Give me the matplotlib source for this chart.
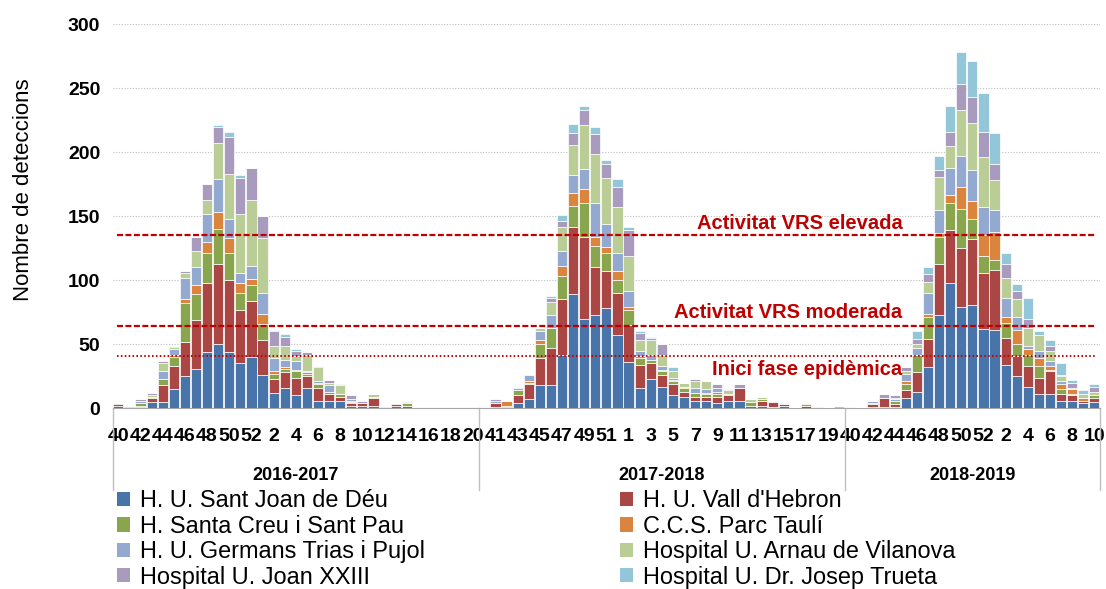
"""
VRS detections by week and hospital, seasons 2016-2017 to 2018-2019.
Stacked bar chart with epidemic threshold lines.
"""

import matplotlib
matplotlib.use("Agg")
import matplotlib.pyplot as plt
import matplotlib.transforms as mtransforms
from matplotlib import font_manager
from matplotlib.patches import Patch
import numpy as np

# ------------------------------------------------------------------ #
# Data
# ------------------------------------------------------------------ #
SEASONS = ["2016-2017", "2017-2018", "2018-2019"]
WEEKS_S1 = list(range(40, 53)) + list(range(1, 21))
WEEKS_S2 = list(range(40, 53)) + list(range(1, 21))
WEEKS_S3 = list(range(40, 53)) + list(range(1, 11))

HOSPITALS = [
    "H. U. Sant Joan de Déu",
    "H. U. Vall d'Hebron",
    "H. Santa Creu i Sant Pau",
    "C.C.S. Parc Taulí",
    "H. U. Germans Trias i Pujol",
    "Hospital U. Arnau de Vilanova",
    "Hospital U. Joan XXIII",
    "Hospital U. Dr. Josep Trueta",
]

sant_joan = [
    2, 1, 1, 5, 5, 15, 25, 31, 44, 50, 44, 35, 40, 26, 12, 16, 10, 16, 6, 6, 6, 2, 2, 2, 1, 2, 2, 0, 0, 0, 0, 0, 0,
    0, 1, 1, 4, 7, 18, 18, 42, 89, 70, 73, 78, 57, 36, 16, 23, 17, 10, 9, 6, 6, 4, 6, 6, 2, 2, 1, 2, 0, 0, 0, 0, 0,
    0, 0, 1, 1, 1, 8, 13, 32, 73, 98, 79, 81, 62, 61, 34, 25, 17, 11, 11, 6, 6, 4, 5,
]
vall_hebron = [
    1, 1, 1, 3, 13, 18, 27, 38, 54, 63, 56, 42, 44, 27, 11, 12, 14, 9, 10, 5, 3, 2, 2, 6, 0, 1, 0, 0, 0, 0, 0, 0, 0,
    0, 3, 1, 6, 12, 21, 29, 43, 53, 64, 37, 29, 33, 29, 18, 12, 9, 9, 4, 3, 3, 5, 4, 10, 0, 4, 4, 1, 0, 2, 0, 0, 0,
    0, 1, 2, 7, 2, 6, 15, 22, 40, 41, 46, 51, 44, 47, 21, 16, 16, 13, 18, 5, 4, 2, 3,
]
santa_creu = [
    1, 0, 2, 1, 5, 7, 30, 20, 23, 27, 21, 13, 12, 13, 4, 3, 5, 2, 3, 2, 2, 1, 0, 0, 1, 0, 2, 0, 0, 0, 0, 0, 0,
    0, 0, 0, 4, 1, 11, 16, 18, 16, 26, 17, 14, 10, 12, 5, 3, 3, 2, 3, 3, 2, 2, 1, 0, 3, 1, 0, 0, 0, 0, 0, 0, 0,
    0, 0, 1, 0, 3, 5, 14, 17, 21, 21, 31, 16, 13, 8, 12, 9, 9, 9, 1, 4, 1, 0, 2,
]
parc_tauli = [
    0, 0, 0, 0, 0, 2, 3, 7, 9, 13, 12, 8, 5, 8, 2, 1, 1, 1, 1, 0, 0, 1, 0, 1, 0, 1, 0, 0, 0, 0, 0, 0, 0,
    0, 0, 4, 0, 1, 3, 0, 8, 10, 11, 7, 5, 7, 2, 2, 0, 1, 1, 1, 0, 1, 2, 0, 0, 0, 0, 0, 0, 0, 1, 0, 0, 0,
    0, 0, 0, 0, 0, 2, 0, 3, 3, 7, 17, 14, 16, 22, 4, 11, 4, 6, 3, 4, 4, 2, 0,
]
germans_trias = [
    0, 0, 2, 0, 6, 4, 17, 14, 22, 26, 15, 8, 10, 16, 10, 6, 7, 1, 1, 5, 0, 1, 0, 0, 0, 0, 0, 0, 0, 0, 0, 0, 0,
    0, 2, 0, 2, 5, 7, 10, 12, 14, 16, 26, 18, 14, 13, 4, 4, 3, 2, 0, 4, 3, 3, 0, 0, 0, 0, 0, 0, 1, 0, 1, 1, 0,
    0, 0, 2, 0, 1, 6, 5, 16, 18, 21, 24, 24, 22, 17, 15, 10, 3, 6, 4, 2, 0, 0, 0,
]
arnau = [
    0, 0, 0, 1, 6, 2, 4, 13, 11, 28, 35, 46, 52, 43, 10, 11, 4, 13, 11, 2, 7, 0, 0, 2, 0, 0, 1, 0, 0, 0, 0, 0, 0,
    0, 0, 0, 1, 1, 3, 10, 19, 24, 34, 39, 36, 36, 27, 8, 11, 9, 5, 3, 5, 6, 0, 3, 0, 2, 2, 0, 0, 0, 1, 1, 0, 2,
    0, 0, 0, 0, 1, 2, 3, 9, 26, 17, 36, 37, 39, 23, 16, 14, 14, 12, 8, 4, 1, 3, 3,
]
joan_xxiii = [
    0, 0, 1, 2, 2, 1, 1, 11, 12, 13, 29, 28, 25, 17, 11, 7, 4, 2, 1, 2, 0, 3, 2, 0, 0, 0, 1, 0, 0, 0, 0, 0, 0,
    0, 1, 0, 0, 0, 0, 3, 4, 9, 12, 15, 11, 16, 20, 6, 2, 8, 0, 0, 2, 0, 3, 1, 3, 0, 0, 1, 1, 0, 0, 0, 0, 0,
    0, 0, 0, 3, 2, 3, 4, 6, 5, 11, 20, 20, 20, 13, 11, 7, 7, 0, 4, 1, 4, 0, 4,
]
trueta = [
    0, 0, 0, 0, 0, 0, 0, 0, 0, 1, 4, 2, 0, 0, 1, 2, 1, 0, 0, 0, 1, 0, 0, 0, 0, 0, 0, 0, 0, 0, 0, 0, 0,
    0, 0, 0, 0, 0, 0, 2, 5, 7, 3, 6, 3, 6, 3, 1, 1, 0, 3, 0, 0, 0, 0, 0, 0, 0, 0, 0, 0, 0, 0, 0, 0, 0,
    0, 0, 0, 0, 0, 0, 6, 5, 11, 20, 25, 28, 30, 24, 8, 5, 16, 3, 4, 9, 2, 3, 2,
]

THRESHOLDS = [135, 64, 41]
THRESHOLD_LABELS = ["Activitat VRS elevada", "Activitat VRS moderada", "Inici fase epidèmica"]

COLORS = ["#4874AA", "#AA4644", "#89A54E", "#DB843D",
          "#93A9D0", "#BACD96", "#A99BBD", "#93C6D8"]
RED = "#C00000"


def pick_font(*names):
    have = {f.name for f in font_manager.fontManager.ttflist}
    for n in names:
        if n in have:
            return n
    return "DejaVu Sans"


def main():
    base_font = pick_font("Liberation Sans", "Arimo")
    narrow_font = pick_font("Liberation Sans Narrow", "Liberation Sans")
    plt.rcParams["font.family"] = [base_font, "DejaVu Sans"]

    series = [sant_joan, vall_hebron, santa_creu, parc_tauli,
              germans_trias, arnau, joan_xxiii, trueta]
    weeks = WEEKS_S1 + WEEKS_S2 + WEEKS_S3
    season_len = [len(WEEKS_S1), len(WEEKS_S2), len(WEEKS_S3)]
    x = np.arange(len(weeks))

    fig = plt.figure(figsize=(11.06, 5.89), dpi=100)
    ax = fig.add_axes([0.102, 0.3068, 0.8925, 0.652])

    bottom = np.zeros(len(weeks))
    for vals, col in zip(series, COLORS):
        vals = np.array(vals, dtype=float)
        ax.bar(x, vals, 0.92, bottom=bottom, color=col,
               edgecolor="white", linewidth=0.5, zorder=3)
        bottom += vals

    ax.set_xlim(-0.5, len(weeks) - 0.5)
    ax.set_ylim(0, 300)
    ax.set_yticks(np.arange(0, 301, 50))
    ax.tick_params(axis="y", length=0, pad=9)
    for lab in ax.get_yticklabels():
        lab.set_fontsize(14)
        lab.set_fontweight("bold")
    ax.grid(axis="y", linestyle=(0, (1, 1.5)), color="#BDBDBD", linewidth=0.8, zorder=0)

    # x tick labels: every second week
    tick_pos = x[::2]
    ax.set_xticks(tick_pos)
    ax.set_xticklabels([str(weeks[i]) for i in tick_pos],
                       fontsize=14, fontweight="bold", family=narrow_font)
    ax.tick_params(axis="x", length=0, pad=14)

    for s in ["top", "right", "left"]:
        ax.spines[s].set_visible(False)
    ax.spines["bottom"].set_color("#A6A6A6")

    ax.set_ylabel("Nombre de deteccions", fontsize=16)
    ax.yaxis.set_label_coords(-0.080, 0.57)

    # season separators and labels
    trans = mtransforms.blended_transform_factory(ax.transData, ax.transAxes)
    edges = np.cumsum([0] + season_len) - 0.5
    for e in edges:
        ax.plot([e, e], [0, -0.213], transform=trans, color="#BFBFBF",
                linewidth=1, clip_on=False)
    for i, name in enumerate(SEASONS):
        mid = (edges[i] + edges[i + 1]) / 2
        ax.text(mid, -0.176, name, transform=trans, ha="center", va="center",
                fontsize=13, fontweight="bold", family=narrow_font)

    # threshold lines
    styles = [(0, (2.7, 1.1)), (0, (2.7, 1.1)), (0, (0.8, 1.2))]
    widths = [1.6, 1.6, 1.4]
    text_y = [144, 74.5, 30]
    for thr, ls, lw, lab, ty in zip(THRESHOLDS, styles, widths, THRESHOLD_LABELS, text_y):
        ax.axhline(thr, xmin=0.004, xmax=0.996, color=RED, linestyle=ls,
                   linewidth=lw, zorder=4)
        ax.text(70.7, ty, lab, ha="right", va="center", color=RED,
                fontsize=14.5, fontweight="bold", zorder=5)

    # legend, two columns (row-major order as in the original)
    handles = [Patch(facecolor=c, edgecolor="none") for c in COLORS]
    left = [0, 2, 4, 6]
    right = [1, 3, 5, 7]
    for idx, xpos in [(left, 0.106), (right, 0.561)]:
        fig.legend([handles[i] for i in idx], [HOSPITALS[i] for i in idx],
                   loc="upper left", bbox_to_anchor=(xpos, 0.169),
                   ncol=1, frameon=False, fontsize=16.9,
                   handlelength=0.55, handleheight=0.55, handletextpad=0.4,
                   labelspacing=0.1, borderaxespad=0, borderpad=0)

    fig.savefig("out.png", dpi=100)
    plt.close(fig)


if __name__ == "__main__":
    main()
